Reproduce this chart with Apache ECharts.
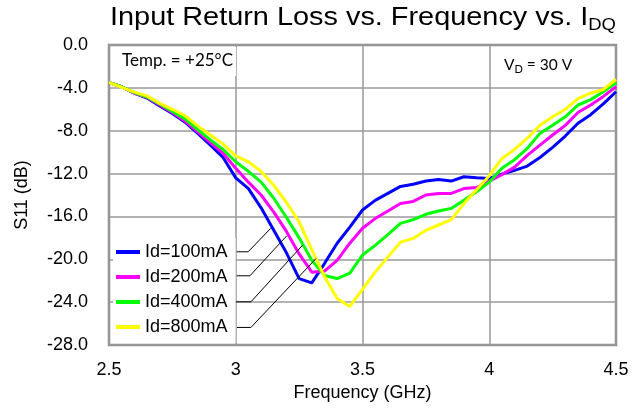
<!DOCTYPE html>
<html><head><meta charset="utf-8">
<script src="https://cdn.jsdelivr.net/npm/echarts@6/dist/echarts.min.js"></script>
<style>html,body{margin:0;padding:0;background:#fff}#c{width:644px;height:417px}</style>
</head><body><div id="c"></div>
<script>
const freqs = [2.50,2.55,2.60,2.65,2.70,2.75,2.80,2.85,2.90,2.95,3.00,3.05,3.10,3.15,3.20,3.25,3.30,3.35,3.40,3.45,3.50,3.55,3.60,3.65,3.70,3.75,3.80,3.85,3.90,3.95,4.00,4.05,4.10,4.15,4.20,4.25,4.30,4.35,4.40,4.45,4.50];
const id100 = [-3.5,-3.9,-4.5,-4.95,-5.7,-6.4,-7.2,-8.25,-9.35,-10.5,-12.4,-13.4,-15.2,-17.3,-19.4,-21.8,-22.2,-20.4,-18.5,-17.0,-15.4,-14.5,-13.85,-13.2,-13.0,-12.7,-12.55,-12.7,-12.3,-12.4,-12.45,-12.05,-11.7,-11.3,-10.5,-9.55,-8.5,-7.3,-6.5,-5.5,-4.36];
const id200 = [-3.5,-3.9,-4.5,-4.9,-5.6,-6.3,-7.1,-8.1,-9.1,-10.1,-11.5,-12.8,-14.0,-15.6,-17.4,-19.5,-21.2,-21.1,-20.1,-18.5,-17.1,-16.2,-15.5,-14.8,-14.6,-14.0,-13.85,-13.85,-13.4,-13.3,-12.7,-12.1,-11.4,-10.3,-9.35,-8.4,-7.5,-6.3,-5.6,-4.8,-3.9];
const id400 = [-3.5,-3.9,-4.45,-4.85,-5.5,-6.2,-6.9,-7.9,-8.85,-9.75,-10.9,-11.8,-12.8,-14.3,-16.1,-18.0,-20.1,-21.5,-21.8,-21.3,-19.6,-18.7,-17.7,-16.65,-16.3,-15.8,-15.5,-15.25,-14.5,-13.7,-12.8,-11.5,-10.7,-9.65,-8.25,-7.5,-6.7,-5.6,-5.1,-4.36,-3.5];
const id800 = [-3.5,-3.95,-4.4,-4.75,-5.45,-6.0,-6.6,-7.55,-8.4,-9.25,-10.35,-10.9,-11.8,-13.1,-14.7,-16.5,-19.1,-21.6,-23.65,-24.4,-22.8,-21.2,-19.8,-18.4,-18.05,-17.3,-16.8,-16.3,-14.8,-13.5,-12.2,-10.6,-9.75,-8.7,-7.5,-6.7,-6.0,-5.0,-4.5,-4.15,-3.2];
const seriesNames = ['Id=100mA','Id=200mA','Id=400mA','Id=800mA'];
const seriesColors = ['#0000ff','#ff00ff','#00ff00','#ffff00'];
const xTicks = [2.5,3,3.5,4,4.5];
const yTicks = [0,-4,-8,-12,-16,-20,-24,-28];

const allData = [id100,id200,id400,id800];
const chart = echarts.init(document.getElementById('c'), null, {renderer:'canvas'});
const font = '"Liberation Sans", Arial, sans-serif';
const boxFont = 'Lato, "Open Sans", sans-serif';

const series = allData.map((vals,i)=>({
  name: seriesNames[i], type:'line', symbol:'none', z: 3,
  data: freqs.map((f,k)=>[f, vals[k]]),
  lineStyle:{color:seriesColors[i], width:3}, itemStyle:{color:seriesColors[i]}
}));
// leader lines from legend to curves
series.push({
  type:'lines', coordinateSystem:'cartesian2d', polyline:true, silent:true, z:5,
  lineStyle:{color:'#000', width:1, opacity:1},
  data:[
    {coords:[[3.004,-19.30],[3.049,-19.30],[3.138,-17.11]]},
    {coords:[[3.004,-21.54],[3.056,-21.54],[3.201,-17.81]]},
    {coords:[[3.001,-23.97],[3.060,-23.97],[3.264,-18.67]]},
    {coords:[[3.005,-26.36],[3.060,-26.36],[3.317,-19.92]]}
  ]
});

chart.setOption({
  animation:false,
  backgroundColor:'#fff',
  grid:{left:109,right:28,top:45,bottom:72,show:true,borderColor:'#8a8a8a',borderWidth:2.5,backgroundColor:'transparent'},
  xAxis:{type:'value',min:xTicks[0],max:xTicks[xTicks.length-1],interval:0.5,
    name:'Frequency (GHz)',nameLocation:'middle',nameGap:37,
    nameTextStyle:{fontFamily:font,fontSize:18,color:'#000'},
    axisLine:{show:false},axisTick:{show:false},
    axisLabel:{fontFamily:font,fontSize:18,color:'#000',margin:16,formatter:v=>String(v)},
    splitLine:{show:true,lineStyle:{color:'#9a9a9a',width:1.5}}},
  yAxis:{type:'value',min:yTicks[yTicks.length-1],max:yTicks[0],interval:4,
    name:'S11 (dB)',nameLocation:'middle',nameGap:78,nameRotate:90,
    nameTextStyle:{fontFamily:font,fontSize:18,color:'#000'},
    axisLine:{show:false},axisTick:{show:false},
    axisLabel:{fontFamily:font,fontSize:18,color:'#000',margin:21,formatter:v=>v.toFixed(1)},
    splitLine:{show:true,lineStyle:{color:'#9a9a9a',width:1.5}}},
  legend:{orient:'vertical',left:113,top:238,icon:'rect',itemWidth:24,itemHeight:4,itemGap:5,
    padding:[4,8,6,3],backgroundColor:'#fff',z:4,
    textStyle:{fontFamily:font,fontSize:18,color:'#000',lineHeight:20},
    data:seriesNames},
  graphic:[
    {type:'rect',left:111,top:47,shape:{width:125,height:29},style:{fill:'#fff'},z:2},
    {type:'text',left:122,top:52,style:{text:'Temp. = +25°C',font:'17px ' + boxFont,fill:'#000'},z:3},
    {type:'text',left:504,top:57,style:{
      text:'{n|V}{s|D}{n| = 30 V}',
      rich:{n:{fontSize:15.5,fontFamily:boxFont,lineHeight:20,verticalAlign:'middle',fill:'#000'},
            s:{fontSize:11,fontFamily:boxFont,lineHeight:20,verticalAlign:'bottom',fill:'#000',padding:[6,0,0,0]}}
    },z:3},
    {type:'text',x:110,y:2,scaleX:1.155,style:{
      text:'{n|Input Return Loss vs. Frequency vs. I}{s|DQ}',
      rich:{n:{fontSize:25,fontFamily:font,lineHeight:32,verticalAlign:'middle',fill:'#000'},
            s:{fontSize:16,fontFamily:font,lineHeight:32,verticalAlign:'bottom',fill:'#000',padding:[10,0,0,0]}}
    },z:3}
  ],
  series:series
});
</script></body></html>
